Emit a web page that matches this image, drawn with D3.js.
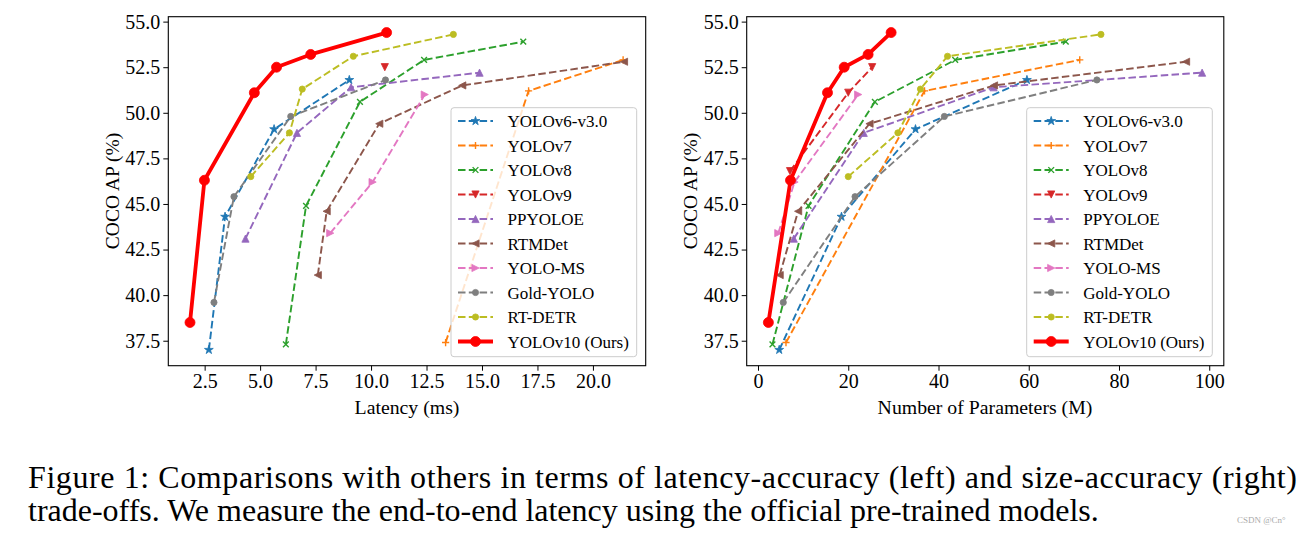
<!DOCTYPE html>
<html><head><meta charset="utf-8">
<script src="https://cdn.jsdelivr.net/npm/d3@7"></script>
<style>body{margin:0;background:#fff} svg{display:block} text{font-family:"Liberation Serif","DejaVu Serif",serif;fill:#000}</style>
</head><body><svg id="c" width="1300" height="533"></svg>
<script>
// ---------- data ----------
const seriesNames = ["YOLOv6-v3.0","YOLOv7","YOLOv8","YOLOv9","PPYOLOE","RTMDet","YOLO-MS","Gold-YOLO","RT-DETR","YOLOv10 (Ours)"];
const seriesColors = ["#1f77b4","#ff7f0e","#2ca02c","#d62728","#9467bd","#8c564b","#e377c2","#7f7f7f","#bcbd22","#ff0000"];
const seriesMarkers = ["star","plus","x","tridown","triup","trileft","triright","dot","dot","circle"];

// COCO AP (%) per model size
const apYOLOv6   = [37.0, 44.3, 49.1, 51.8];
const apYOLOv7   = [37.4, 51.2, 52.9];
const apYOLOv8   = [37.3, 44.9, 50.6, 52.9, 53.9];
const apYOLOv9   = [46.8, 51.1, 52.5];
const apPPYOLOE  = [43.1, 48.9, 51.4, 52.2];
const apRTMDet   = [41.1, 44.6, 49.4, 51.5, 52.8];
const apYOLOMS   = [43.4, 46.2, 51.0];
const apGoldYOLO = [39.6, 45.4, 49.8, 51.8];
const apRTDETR   = [46.5, 48.9, 51.3, 53.1, 54.3];
const apYOLOv10  = [38.5, 46.3, 51.1, 52.5, 53.2, 54.4];

// Latency (ms); null = not reported
const latYOLOv6   = [2.69, 3.42, 5.63, 9.02];
const latYOLOv7   = [13.36, 17.10, 21.36];
const latYOLOv8   = [6.16, 7.07, 9.50, 12.39, 16.86];
const latYOLOv9   = [null, null, 10.62];
const latPPYOLOE  = [4.34, 6.66, 9.10, 14.89];
const latRTMDet   = [7.60, 8.00, 10.37, 14.11, 21.40];
const latYOLOMS   = [8.16, 10.07, 12.42];
const latGoldYOLO = [2.92, 3.82, 6.38, 10.65];
const latRTDETR   = [4.58, 6.32, 6.90, 9.20, 13.71];
const latYOLOv10  = [1.84, 2.49, 4.74, 5.74, 7.28, 10.70];

// Number of parameters (M)
const parYOLOv6   = [4.7, 18.5, 34.9, 59.6];
const parYOLOv7   = [6.2, 36.9, 71.3];
const parYOLOv8   = [3.2, 11.2, 25.9, 43.7, 68.2];
const parYOLOv9   = [7.1, 20.0, 25.3];
const parPPYOLOE  = [7.93, 23.43, 52.2, 98.42];
const parRTMDet   = [4.8, 8.89, 24.71, 52.3, 94.86];
const parYOLOMS   = [4.5, 8.1, 22.2];
const parGoldYOLO = [5.6, 21.5, 41.3, 75.1];
const parRTDETR   = [20.0, 31.0, 36.0, 42.0, 76.0];
const parYOLOv10  = [2.3, 7.2, 15.4, 19.1, 24.4, 29.5];

const apAll  = [apYOLOv6, apYOLOv7, apYOLOv8, apYOLOv9, apPPYOLOE, apRTMDet, apYOLOMS, apGoldYOLO, apRTDETR, apYOLOv10];
const latAll = [latYOLOv6, latYOLOv7, latYOLOv8, latYOLOv9, latPPYOLOE, latRTMDet, latYOLOMS, latGoldYOLO, latRTDETR, latYOLOv10];
const parAll = [parYOLOv6, parYOLOv7, parYOLOv8, parYOLOv9, parPPYOLOE, parRTMDet, parYOLOMS, parGoldYOLO, parRTDETR, parYOLOv10];

const yTicks = [37.5, 40.0, 42.5, 45.0, 47.5, 50.0, 52.5, 55.0];
const xTicksLat = [2.5, 5.0, 7.5, 10.0, 12.5, 15.0, 17.5, 20.0];
const xTicksPar = [0, 20, 40, 60, 80, 100];
const yLabel = "COCO AP (%)";
const xLabelLat = "Latency (ms)";
const xLabelPar = "Number of Parameters (M)";
const captionLines = [
  "Figure 1: Comparisons with others in terms of latency-accuracy (left) and size-accuracy (right)",
  "trade-offs. We measure the end-to-end latency using the official pre-trained models."
];
const watermark = "CSDN @Cn°";

// ---------- drawing ----------
const svg = d3.select("#c");
const TOP = 16.7, BOT = 365.7;

function padDomain(vals){
  const e = d3.extent(vals); const m = (e[1]-e[0])*0.05; return [e[0]-m, e[1]+m];
}

function markerSpec(type){
  const r = 3.6;
  switch(type){
    case "circle": return {d: d3.symbol(d3.symbolCircle, Math.PI*5*5)(), filled:true};
    case "dot": return {d: d3.symbol(d3.symbolCircle, Math.PI*3.1*3.1)(), filled:true};
    case "star": return {d: d3.symbol(d3.symbolStar, 24)(), filled:true};
    case "plus": return {d: `M${-r},0H${r}M0,${-r}V${r}`, filled:false};
    case "x": { const q=r*0.8; return {d:`M${-q},${-q}L${q},${q}M${-q},${q}L${q},${-q}`, filled:false}; }
    case "triup": return {d:`M0,${-r}L${r},${r}L${-r},${r}Z`, filled:true};
    case "tridown": return {d:`M0,${r}L${r},${-r}L${-r},${-r}Z`, filled:true};
    case "trileft": return {d:`M${-r},0L${r},${-r}L${r},${r}Z`, filled:true};
    case "triright": return {d:`M${r},0L${-r},${-r}L${-r},${r}Z`, filled:true};
  }
}

function drawMarker(g, type, color, x, y){
  const s = markerSpec(type);
  g.append("path").attr("d", s.d).attr("transform", `translate(${x},${y})`)
    .attr("fill", s.filled ? color : "none").attr("stroke", color)
    .attr("stroke-width", s.filled ? 0.8 : 1.4);
}

function panel(opts){
  const {x0, x1, xs, xTicks, xFmt, xLabel, xLabelX, yLabelX, legendX0, legendX1} = opts;
  const allX = xs.flat().filter(v => v != null);
  const allY = apAll.flat();
  const x = d3.scaleLinear().domain(padDomain(allX)).range([x0, x1]);
  const y = d3.scaleLinear().domain(padDomain(allY)).range([BOT, TOP]);
  const g = svg.append("g");

  seriesNames.forEach((name, i) => {
    const pts = xs[i].map((v, j) => ({x: v, y: apAll[i][j]})).filter(p => p.x != null);
    const ours = i === seriesNames.length - 1;
    const line = d3.line().x(p => x(p.x)).y(p => y(p.y));
    g.append("path").attr("d", line(pts)).attr("fill", "none")
      .attr("stroke", seriesColors[i]).attr("stroke-width", ours ? 3.8 : 1.9)
      .attr("stroke-dasharray", ours ? null : "7.5,3.3")
      .attr("stroke-linejoin", "round");
    pts.forEach(p => drawMarker(g, seriesMarkers[i], seriesColors[i], x(p.x), y(p.y)));
  });

  g.append("rect").attr("x", x0).attr("y", TOP).attr("width", x1 - x0).attr("height", BOT - TOP)
    .attr("fill", "none").attr("stroke", "#000").attr("stroke-width", 1.1);

  const ax = g.append("g").attr("transform", `translate(0,${BOT})`)
    .call(d3.axisBottom(x).tickValues(xTicks).tickFormat(d3.format(xFmt)).tickSize(5).tickPadding(3));
  const ay = g.append("g").attr("transform", `translate(${x0},0)`)
    .call(d3.axisLeft(y).tickValues(yTicks).tickFormat(d3.format(".1f")).tickSize(5).tickPadding(3));
  [ax, ay].forEach(a => {
    a.select(".domain").remove();
    a.selectAll("line").attr("stroke", "#000").attr("stroke-width", 1);
    a.selectAll("text").attr("font-size", 20).attr("font-family", '"Liberation Serif",serif').attr("fill", "#000");
  });

  g.append("text").attr("x", xLabelX).attr("y", 414).attr("text-anchor", "middle")
    .attr("font-size", 19.8).text(xLabel);
  g.append("text").attr("transform", `translate(${yLabelX},191) rotate(-90)`).attr("text-anchor", "middle")
    .attr("font-size", 19.5).text(yLabel);

  const lg = g.append("g");
  lg.append("rect").attr("x", legendX0).attr("y", 107.7).attr("width", legendX1 - legendX0).attr("height", 249)
    .attr("rx", 3).attr("fill", "#fff").attr("fill-opacity", 0.8).attr("stroke", "#cccccc").attr("stroke-width", 1);
  seriesNames.forEach((name, i) => {
    const ry = 121 + i * 24.5;
    const hx0 = legendX0 + 7, hx1 = legendX0 + 42;
    const ours = i === seriesNames.length - 1;
    lg.append("line").attr("x1", hx0).attr("x2", hx1).attr("y1", ry).attr("y2", ry)
      .attr("stroke", seriesColors[i]).attr("stroke-width", ours ? 3.8 : 1.9)
      .attr("stroke-dasharray", ours ? null : "7.5,3.3");
    drawMarker(lg, seriesMarkers[i], seriesColors[i], (hx0 + hx1) / 2, ry);
    lg.append("text").attr("x", legendX0 + 56.5).attr("y", ry + 6).attr("font-size", 17).text(name);
  });
}

panel({x0: 168.3, x1: 645.7, xs: latAll, xTicks: xTicksLat, xFmt: ".1f", xLabel: xLabelLat,
       xLabelX: 407, yLabelX: 119, legendX0: 451, legendX1: 636.7});
panel({x0: 746.7, x1: 1223.8, xs: parAll, xTicks: xTicksPar, xFmt: "d", xLabel: xLabelPar,
       xLabelX: 985, yLabelX: 697, legendX0: 1026.7, legendX1: 1212.3});

svg.append("text").attr("x", 28).attr("y", 488).attr("font-size", 32)
  .attr("textLength", 1269).attr("lengthAdjust", "spacing").text(captionLines[0]);
svg.append("text").attr("x", 28).attr("y", 521).attr("font-size", 32).text(captionLines[1]);
svg.append("text").attr("x", 1237).attr("y", 523).attr("font-size", 9)
  .attr("font-family", '"DejaVu Sans",sans-serif').style("fill", "#aaa").text(watermark);
</script></body></html>
